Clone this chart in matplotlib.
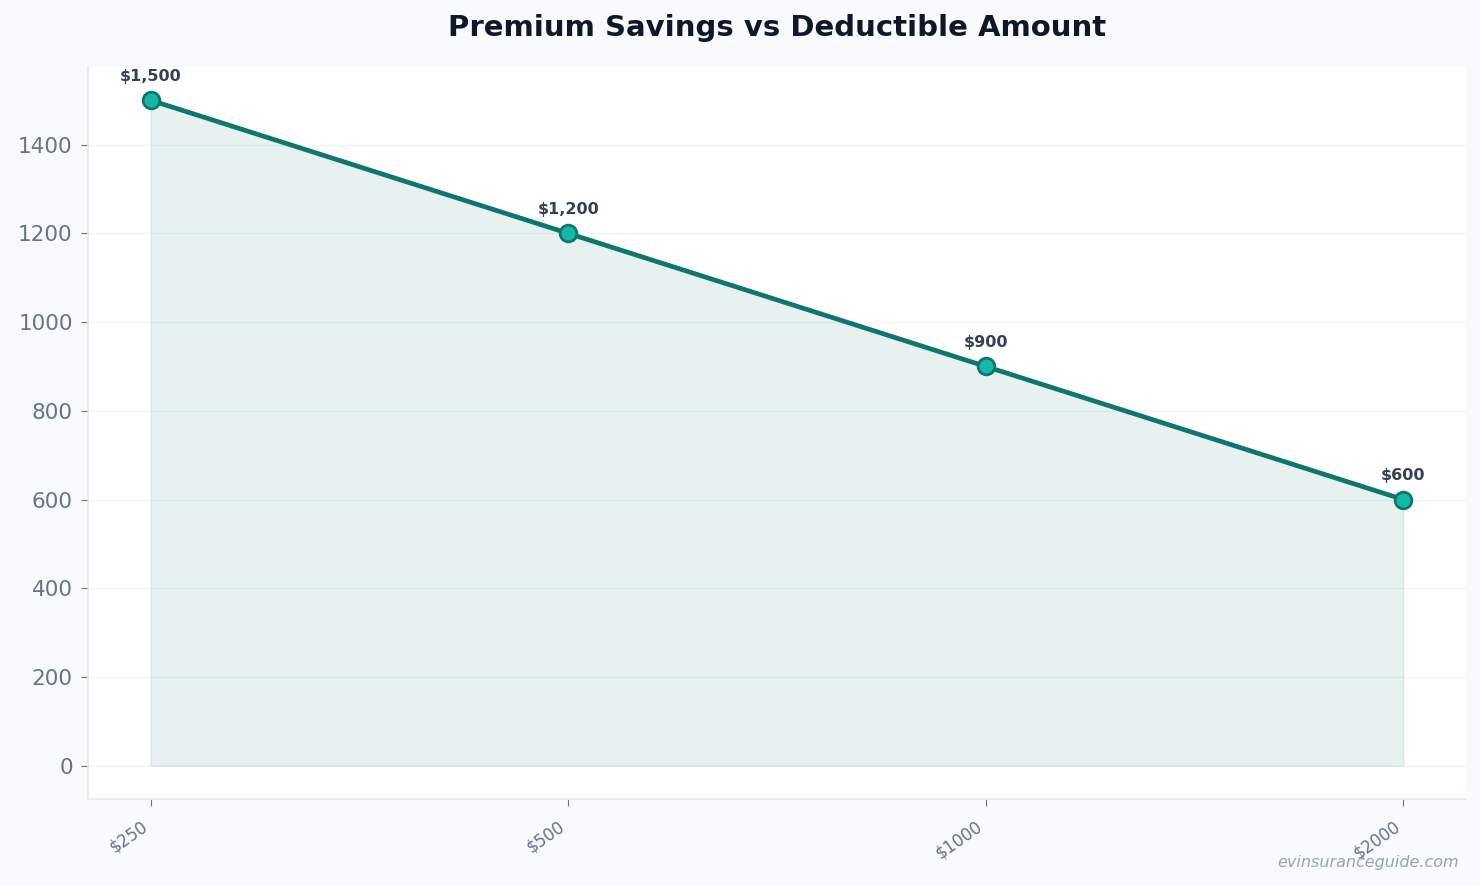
import matplotlib
matplotlib.use("Agg")
import matplotlib.pyplot as plt

categories = ["$250", "$500", "$1000", "$2000"]
savings = [1500, 1200, 900, 600]
labels = ["$1,500", "$1,200", "$900", "$600"]

fig = plt.figure(figsize=(14.8, 8.86), dpi=100, facecolor="#f8fafc")
ax = fig.add_axes([0.0595, 0.0982, 0.931, 0.8262])
ax.set_facecolor("white")

x = list(range(len(categories)))
ax.fill_between(x, savings, 0, color="#0f766e", alpha=0.1, zorder=1)
ax.plot(x, savings, color="#0f766e", linewidth=3.4, marker="o", markersize=12,
        markerfacecolor="#14b8a6", markeredgecolor="#0f766e", markeredgewidth=2, zorder=3)
for xi, v, lab in zip(x, savings, labels):
    ax.annotate(lab, (xi, v), xytext=(0, 12), textcoords="offset points",
                ha="center", va="bottom", fontsize=11.5, fontweight="bold", color="#334155")

ax.set_xticks(x)
ax.set_xticklabels(categories, rotation=35, ha="right", fontsize=12, color="#64748b")
ax.tick_params(axis="y", labelsize=15.5, labelcolor="#64748b", color="#64748b", length=5, pad=6)
ax.tick_params(axis="x", color="#64748b", length=5, pad=8)
ax.grid(axis="y", color="#f1f5f9", linewidth=1)
ax.set_axisbelow(True)
for s in ["top", "right"]:
    ax.spines[s].set_visible(False)
for s in ["left", "bottom"]:
    ax.spines[s].set_color("#e2e8f0")
    ax.spines[s].set_linewidth(1.2)

ax.set_title("Premium Savings vs Deductible Amount", fontsize=21, fontweight="bold",
             color="#0f172a", pad=22)
fig.text(0.986, 0.027, "evinsuranceguide.com", ha="right", va="center", fontsize=11.5,
         style="italic", color="#94a3b8")

fig.savefig("out.png", dpi=100, facecolor=fig.get_facecolor())
